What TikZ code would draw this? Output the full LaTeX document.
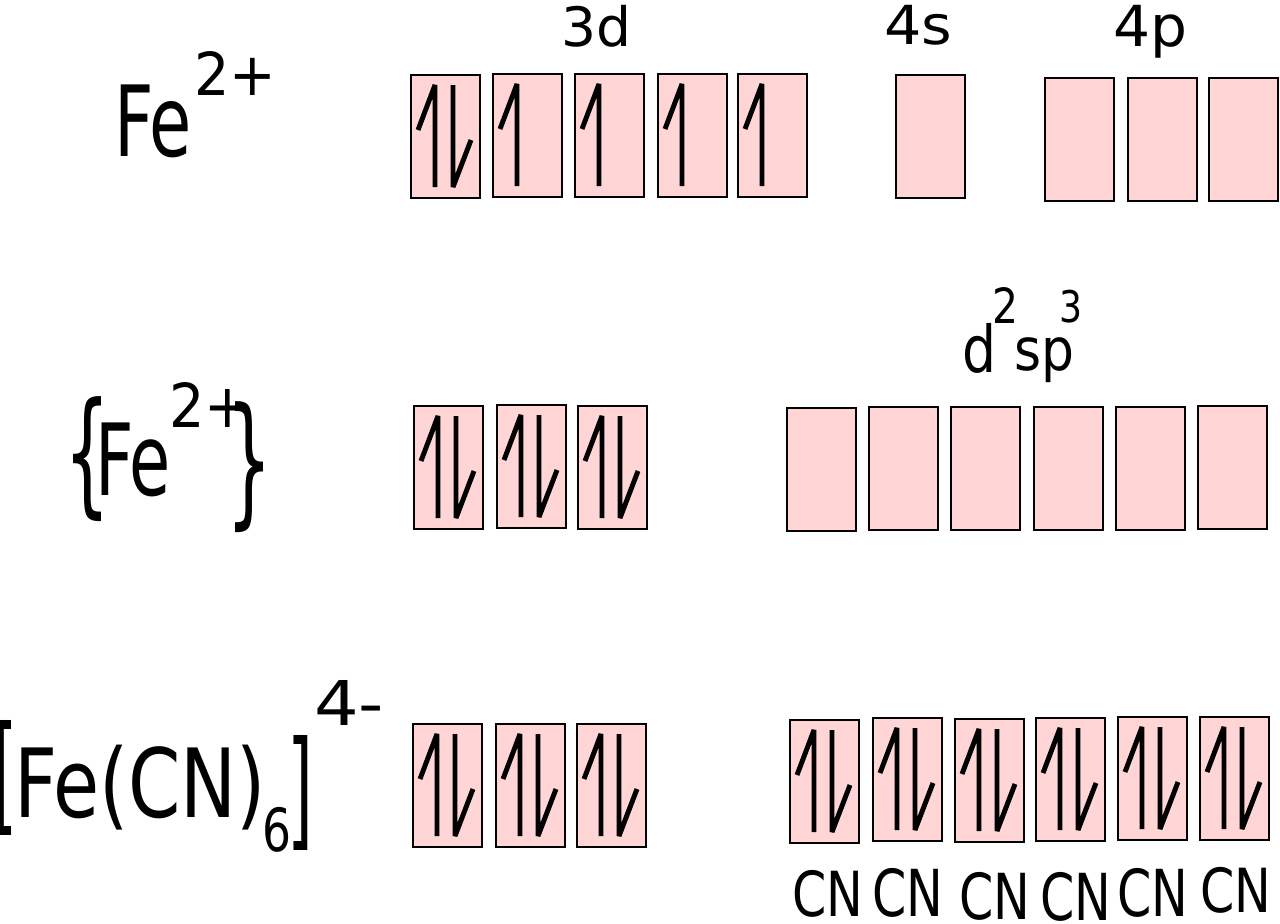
\documentclass[tikz,border=0pt]{standalone}
\usepackage{fontspec}
\setmainfont{DejaVu Sans}
\usepackage{graphicx}

\definecolor{orbfill}{HTML}{FFD5D5}
\newlength{\pxu}
\setlength{\pxu}{0.02cm}
\newcommand{\fitto}[3]{\resizebox*{#1\pxu}{#2\pxu}{#3}}

\tikzset{
  orb/.style={draw=black, fill=orbfill, line width=1.4pt, outer sep=0pt,
              minimum width=1.38cm, minimum height=2.46cm, anchor=north west},
  spin/.style={line width=2.8pt, line join=bevel},
  lbl/.style={inner sep=0pt, outer sep=0pt, anchor=north west}
}
\newcommand{\spinup}[1]{\draw[spin] ([shift={(7,55)}]#1.north west) -- ([shift={(24,10)}]#1.north west) -- ([shift={(24,112)}]#1.north west);}
\newcommand{\spindown}[1]{\draw[spin] ([shift={(42,10)}]#1.north west) -- ([shift={(42,112)}]#1.north west) -- ([shift={(60,65)}]#1.north west);}

\begin{document}
\begin{tikzpicture}[x=0.02cm, y=-0.02cm]
\useasboundingbox (0,0) rectangle (1280,923);

% Fe2+ ground state
\node[lbl] (fe1) at (114,85) {\fitto{78}{73}{Fe}};
\node[lbl] (ch1) at (194,51) {\fitto{82}{44}{2+}};

\node[lbl] (l3d) at (561,5) {\fitto{70}{42}{3d}};
\node[lbl] (l4s) at (884,5) {\fitto{68}{40}{4s}};
\node[lbl] (l4p) at (1113,5) {\fitto{74}{53}{4p}};

\node[orb] (d1) at (411,75) {};
\node[orb] (d2) at (493,74) {};
\node[orb] (d3) at (575,74) {};
\node[orb] (d4) at (658,74) {};
\node[orb] (d5) at (738,74) {};
\node[orb] (s1) at (896,75) {};
\node[orb] (p1) at (1045,78) {};
\node[orb] (p2) at (1128,78) {};
\node[orb] (p3) at (1209,78) {};

\spinup{d1} \spindown{d1}
\spinup{d2}
\spinup{d3}
\spinup{d4}
\spinup{d5}

% paired Fe2+
\node[lbl] (lbr) at (64,397) {\fitto{46}{125}{\{}};
\node[lbl] (fe2) at (95,423) {\fitto{76}{74}{Fe}};
\node[lbl] (ch2) at (169,382) {\fitto{82}{45}{2+}};
\node[lbl] (rbr) at (226,402) {\fitto{46}{131}{\}}};

\node[lbl] (hd) at (962,323) {\fitto{34}{50}{d}};
\node[lbl] (hd2) at (992,287) {\fitto{26}{36}{2}};
\node[lbl] (hsp) at (1014,338) {\fitto{60}{45}{sp}};
\node[lbl] (hsp3) at (1059,290) {\fitto{23}{33}{3}};

\node[orb] (e1) at (414,406) {};
\node[orb] (e2) at (497,405) {};
\node[orb] (e3) at (578,406) {};
\node[orb] (h1) at (787,408) {};
\node[orb] (h2) at (869,407) {};
\node[orb] (h3) at (951,407) {};
\node[orb] (h4) at (1034,407) {};
\node[orb] (h5) at (1116,407) {};
\node[orb] (h6) at (1198,406) {};

\spinup{e1} \spindown{e1}
\spinup{e2} \spindown{e2}
\spinup{e3} \spindown{e3}

% complex ion
\node[lbl] (lsq) at (-6,720) {\fitto{24}{115}{[}};
\node[lbl] (fcn) at (14,745) {\fitto{252}{85}{Fe(CN)}};
\node[lbl] (six) at (262,807) {\fitto{29}{45}{6}};
\node[lbl] (rsq) at (287,735) {\fitto{26}{115}{]}};
\node[lbl] (ch3) at (314,680) {\fitto{70}{45}{4-}};

\node[orb] (f1) at (413,724) {};
\node[orb] (f2) at (496,724) {};
\node[orb] (f3) at (577,724) {};
\node[orb] (c1) at (790,720) {};
\node[orb] (c2) at (873,718) {};
\node[orb] (c3) at (955,719) {};
\node[orb] (c4) at (1036,718) {};
\node[orb] (c5) at (1118,717) {};
\node[orb] (c6) at (1200,717) {};

\spinup{f1} \spindown{f1}
\spinup{f2} \spindown{f2}
\spinup{f3} \spindown{f3}
\spinup{c1} \spindown{c1}
\spinup{c2} \spindown{c2}
\spinup{c3} \spindown{c3}
\spinup{c4} \spindown{c4}
\spinup{c5} \spindown{c5}
\spinup{c6} \spindown{c6}

\node[lbl] (cn1) at (792,870) {\fitto{71}{47}{CN}};
\node[lbl] (cn2) at (872,868) {\fitto{71}{49}{CN}};
\node[lbl] (cn3) at (959,872) {\fitto{71}{48}{CN}};
\node[lbl] (cn4) at (1040,872) {\fitto{71}{49}{CN}};
\node[lbl] (cn5) at (1117,868) {\fitto{71}{49}{CN}};
\node[lbl] (cn6) at (1200,867) {\fitto{71}{46}{CN}};

\end{tikzpicture}
\end{document}
